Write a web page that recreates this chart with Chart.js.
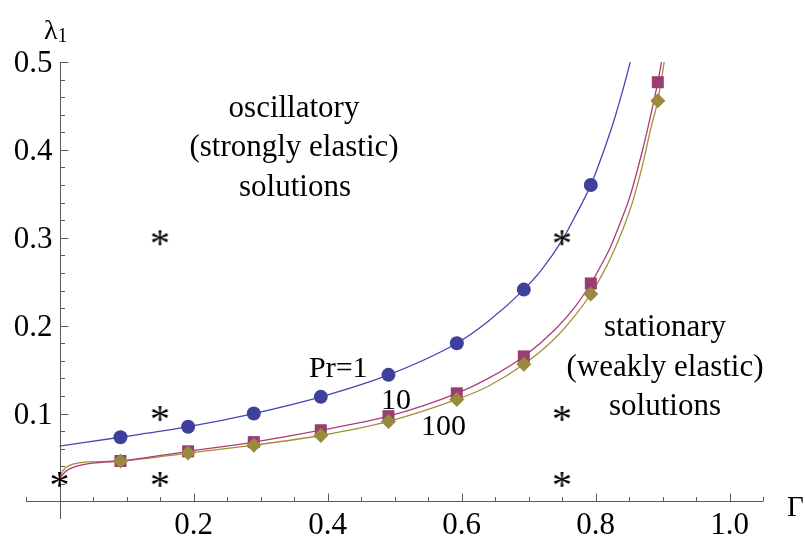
<!DOCTYPE html>
<html>
<head>
<meta charset="utf-8">
<title>λ1 versus Γ</title>
<script src="https://cdn.jsdelivr.net/npm/chart.js@4.4.0/dist/chart.umd.min.js"></script>
<style>
  html, body { margin: 0; padding: 0; background: #fff; }
  #wrap { width: 805px; height: 536px; }
</style>
</head>
<body>
<div id="wrap"><canvas id="chart" width="805" height="536"></canvas></div>
<script>
// computed points (markers)
const markGamma = [0.091, 0.192, 0.29, 0.39, 0.491, 0.593, 0.693, 0.793, 0.893];
const markPr1   = [0.073, 0.085, 0.100, 0.119, 0.144, 0.180, 0.241, 0.360, null];
const markPr10  = [0.046, 0.057, 0.0675, 0.081, 0.097, 0.123, 0.165, 0.248, 0.477];
const markPr100 = [0.046, 0.055, 0.064, 0.075, 0.091, 0.116, 0.156, 0.236, 0.456];

// fitted curves
const curvePr1X   = [0, 0.091, 0.192, 0.29, 0.39, 0.491, 0.593, 0.64, 0.693, 0.72, 0.75, 0.77, 0.793, 0.81, 0.827, 0.84, 0.853];
const curvePr1Y   = [0.063, 0.073, 0.085, 0.100, 0.119, 0.144, 0.180, 0.205, 0.241, 0.264, 0.297, 0.325, 0.360, 0.394, 0.432, 0.466, 0.503];
const curvePr10X  = [0, 0.005, 0.015, 0.035, 0.091, 0.192, 0.29, 0.39, 0.491, 0.593, 0.64, 0.693, 0.74, 0.77, 0.793, 0.81, 0.822, 0.84, 0.851, 0.87, 0.879, 0.893, 0.899];
const curvePr10Y  = [0.026, 0.031, 0.037, 0.042, 0.046, 0.057, 0.0675, 0.081, 0.097, 0.123, 0.140, 0.165, 0.196, 0.222, 0.248, 0.271, 0.289, 0.323, 0.346, 0.399, 0.428, 0.477, 0.502];
const curvePr100X = [0, 0.005, 0.015, 0.035, 0.091, 0.192, 0.29, 0.39, 0.491, 0.593, 0.64, 0.693, 0.74, 0.77, 0.793, 0.81, 0.825, 0.84, 0.855, 0.87, 0.883, 0.893, 0.903];
const curvePr100Y = [0.026, 0.035, 0.041, 0.0445, 0.046, 0.055, 0.064, 0.075, 0.091, 0.116, 0.131, 0.156, 0.186, 0.212, 0.236, 0.258, 0.281, 0.308, 0.340, 0.382, 0.426, 0.456, 0.502];

// test points (asterisks)
const starX = [0, 0.15, 0.15, 0.15, 0.75, 0.75, 0.75];
const starY = [0.025, 0.3, 0.1, 0.025, 0.3, 0.1, 0.025];

// axis ticks
const xTickValues = [0.2, 0.4, 0.6, 0.8, 1.0];
const xTickLabels = ['0.2', '0.4', '0.6', '0.8', '1.0'];
const yTickValues = [0.1, 0.2, 0.3, 0.4, 0.5];
const yTickLabels = ['0.1', '0.2', '0.3', '0.4', '0.5'];

const pairs = (xs, ys) => xs.map((x, i) => ({ x: x, y: ys[i] })).filter(p => p.y !== null);

const SERIF = '"Liberation Serif", "Times New Roman", serif';

// asterisk glyph as point image
function makeStar(size) {
    const c = document.createElement('canvas');
    c.width = size + 6; c.height = size + 6;
    const g = c.getContext('2d');
    g.font = '40px ' + SERIF;
    let m = g.measureText('*');
    const h = m.actualBoundingBoxAscent + m.actualBoundingBoxDescent;
    const fs = 40 * size / h;
    g.font = fs + 'px ' + SERIF;
    m = g.measureText('*');
    const w = m.actualBoundingBoxLeft + m.actualBoundingBoxRight;
    const hh = m.actualBoundingBoxAscent + m.actualBoundingBoxDescent;
    g.fillStyle = '#000';
    g.fillText('*', c.width / 2 - w / 2 + m.actualBoundingBoxLeft, c.height / 2 - hh / 2 + m.actualBoundingBoxAscent);
    return c;
}

const axesPlugin = {
    id: 'mmaAxes',
    beforeDatasetsDraw(chart) {
        const { ctx, scales: { x, y }, chartArea: a } = chart;
        const x0 = Math.round(x.getPixelForValue(0)) + 0.5;
        const y0 = Math.round(y.getPixelForValue(0)) + 0.5;
        ctx.save();
        ctx.strokeStyle = '#5a5a5a';
        ctx.lineWidth = 1;
        ctx.beginPath();
        ctx.moveTo(a.left, y0); ctx.lineTo(a.right, y0);
        ctx.moveTo(x0, a.top); ctx.lineTo(x0, a.bottom);
        // x ticks every 0.05, long every 0.2
        for (let k = -1; k <= 21; k++) {
            if (k === 0) continue;
            const px = Math.round(x.getPixelForValue(k * 0.05)) + 0.5;
            const len = (k % 4 === 0) ? 8 : 4.5;
            ctx.moveTo(px, y0); ctx.lineTo(px, y0 - len);
        }
        // y ticks every 0.02, long every 0.1
        for (let k = 1; k <= 25; k++) {
            const py = Math.round(y.getPixelForValue(k * 0.02)) + 0.5;
            const len = (k % 5 === 0) ? 8 : 4.5;
            ctx.moveTo(x0, py); ctx.lineTo(x0 + len, py);
        }
        ctx.stroke();

        ctx.fillStyle = '#000';
        ctx.font = '31px ' + SERIF;
        ctx.textAlign = 'center';
        ctx.textBaseline = 'alphabetic';
        xTickValues.forEach((v, i) => {
            ctx.fillText(xTickLabels[i], x.getPixelForValue(v), 534);
        });
        ctx.textAlign = 'right';
        yTickValues.forEach((v, i) => {
            ctx.fillText(yTickLabels[i], x0 - 8, y.getPixelForValue(v) + 10);
        });
        ctx.restore();
    },
    afterDatasetsDraw(chart) {
        const { ctx } = chart;
        ctx.save();
        ctx.fillStyle = '#000';
        ctx.textBaseline = 'alphabetic';
        ctx.textAlign = 'center';
        ctx.font = '31px ' + SERIF;
        ctx.fillText('oscillatory', 294, 117);
        ctx.fillText('(strongly elastic)', 294, 156);
        ctx.fillText('solutions', 295, 196);
        ctx.fillText('stationary', 665, 336);
        ctx.fillText('(weakly elastic)', 665, 376);
        ctx.fillText('solutions', 665, 415);

        ctx.textAlign = 'left';
        ctx.font = '30px ' + SERIF;
        ctx.fillText('Pr=1', 309, 377);
        ctx.fillText('10', 381, 409);
        ctx.fillText('100', 421, 435);

        ctx.font = '29px ' + SERIF;
        ctx.fillText('Γ', 787, 516);
        ctx.font = '28px ' + SERIF;
        ctx.fillText('λ', 44, 39);
        const lw = ctx.measureText('λ').width;
        ctx.font = '20px ' + SERIF;
        ctx.fillText('1', 44 + lw, 42);
        ctx.restore();
    }
};

const lineStyle = (color) => ({
    type: 'line',
    borderColor: color,
    borderWidth: 1.3,
    pointRadius: 0,
    fill: false,
    cubicInterpolationMode: 'monotone',
    order: 2
});

const ctx = document.getElementById('chart');
new Chart(ctx, {
    type: 'scatter',
    data: {
        datasets: [
            Object.assign({ label: 'Pr=1 curve', data: pairs(curvePr1X, curvePr1Y) }, lineStyle('#4646b0')),
            Object.assign({ label: 'Pr=10 curve', data: pairs(curvePr10X, curvePr10Y) }, lineStyle('#b03a78')),
            Object.assign({ label: 'Pr=100 curve', data: pairs(curvePr100X, curvePr100Y) }, lineStyle('#a38f3a')),
            {
                label: 'Pr=1', data: pairs(markGamma, markPr1),
                pointStyle: 'circle', pointRadius: 7, backgroundColor: '#3f3f9c', borderWidth: 0, order: 1
            },
            {
                label: 'Pr=10', data: pairs(markGamma, markPr10),
                pointStyle: 'rect', pointRadius: 8.5, backgroundColor: '#9a3d72', borderWidth: 0, order: 1
            },
            {
                label: 'Pr=100', data: pairs(markGamma, markPr100),
                pointStyle: 'rectRot', pointRadius: 7.5, backgroundColor: '#998b3d', borderWidth: 0, order: 0
            },
            {
                label: 'tests', data: pairs(starX, starY),
                pointStyle: makeStar(15), order: 0
            }
        ]
    },
    options: {
        responsive: false,
        animation: false,
        layout: { padding: { left: 26, right: 42, top: 62, bottom: 17 } },
        plugins: { legend: { display: false }, tooltip: { enabled: false } },
        scales: {
            x: { type: 'linear', min: -0.05, max: 1.05, display: false },
            y: { type: 'linear', min: -0.02, max: 0.5, display: false }
        }
    },
    plugins: [axesPlugin]
});
</script>
</body>
</html>
